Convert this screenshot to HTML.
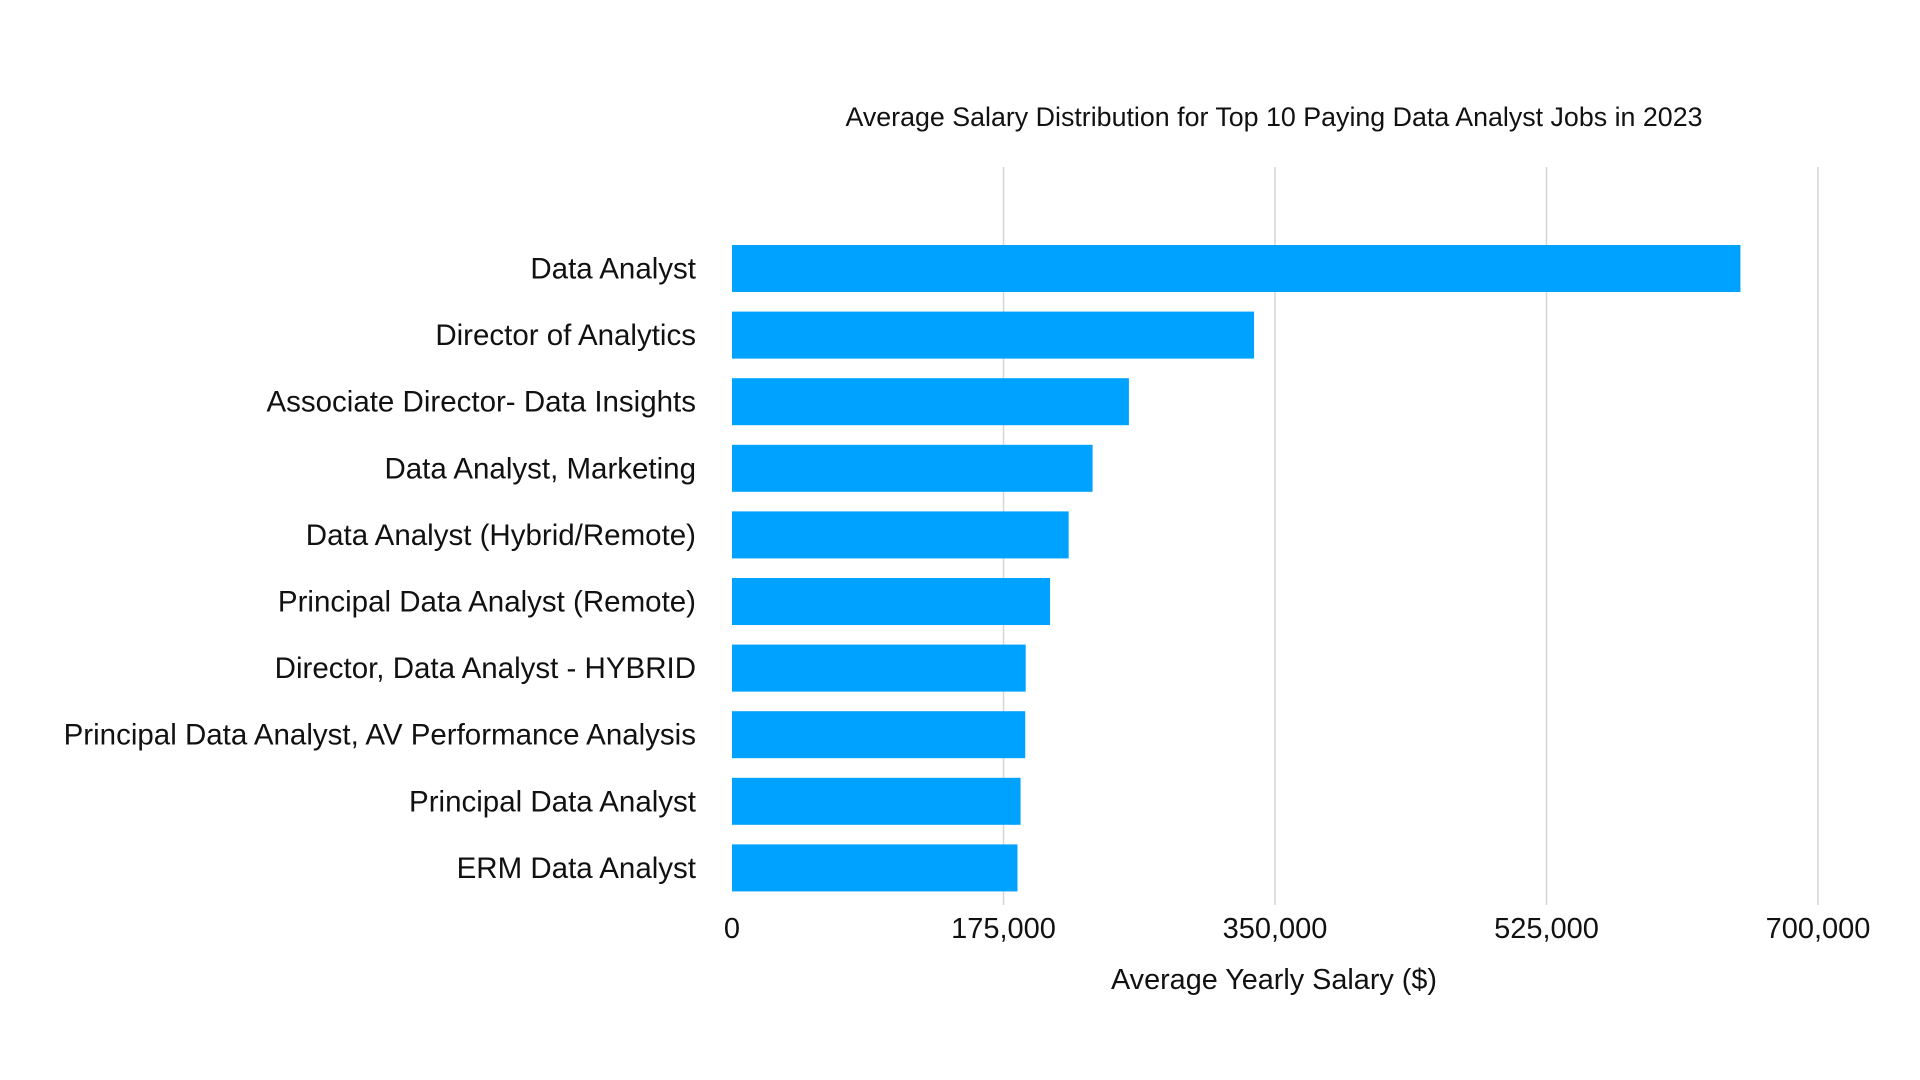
<!DOCTYPE html>
<html><head><meta charset="utf-8"><style>
html,body{margin:0;padding:0;background:#fff;}
svg{display:block;font-family:"Liberation Sans",Arial,sans-serif;}
</style></head><body>
<svg id="chart" width="1920" height="1080" viewBox="0 0 1920 1080" xmlns="http://www.w3.org/2000/svg">
<rect width="1920" height="1080" fill="#fff"/>
<text x="1274" y="126" text-anchor="middle" font-size="26.8" fill="#111">Average Salary Distribution for Top 10 Paying Data Analyst Jobs in 2023</text>
<g id="grid"></g><g id="bars"></g><g id="labels"></g><g id="ticks"></g>
<text x="1274" y="989" text-anchor="middle" font-size="28.8" fill="#111">Average Yearly Salary ($)</text>
</svg>
<script>
const categories = ["Data Analyst","Director of Analytics","Associate Director- Data Insights","Data Analyst, Marketing","Data Analyst (Hybrid/Remote)","Principal Data Analyst (Remote)","Director, Data Analyst - HYBRID","Principal Data Analyst, AV Performance Analysis","Principal Data Analyst","ERM Data Analyst"];
const salaries = [650000,336500,255829,232423,217000,205000,189309,189000,186000,184000];
const tickValues = [0,175000,350000,525000,700000];
const tickLabels = ["0","175,000","350,000","525,000","700,000"];

const NS="http://www.w3.org/2000/svg";
const x0=732, x1=1818, xMax=700000;
const xs=v=>x0+(x1-x0)*v/xMax;
const yTop=268.5, step=66.6, bh=47;
const yc=i=>yTop+i*step;
function mk(tag,attrs,parent){const e=document.createElementNS(NS,tag);for(const k in attrs)e.setAttribute(k,attrs[k]);document.getElementById(parent).appendChild(e);return e;}
tickValues.forEach((v,i)=>{
  if(i>0){const l=mk('line',{x1:xs(v),x2:xs(v),y1:167,y2:905,stroke:'#d6d6d6','stroke-width':1.5},'grid');
  
  }
  const t=mk('text',{x:xs(v),y:938,'text-anchor':'middle','font-size':29,fill:'#111'},'ticks');
  t.textContent=tickLabels[i];
  
  
});
categories.forEach((c,i)=>{
  const r=mk('rect',{x:x0,y:yc(i)-bh/2,width:xs(salaries[i])-x0,height:bh,fill:'#00a2ff'},'bars');
  
  
  const t=mk('text',{x:696,y:yc(i)+10,'text-anchor':'end','font-size':29.5,fill:'#111'},'labels');
  t.textContent=c;
  
  
});
</script>
</body></html>
